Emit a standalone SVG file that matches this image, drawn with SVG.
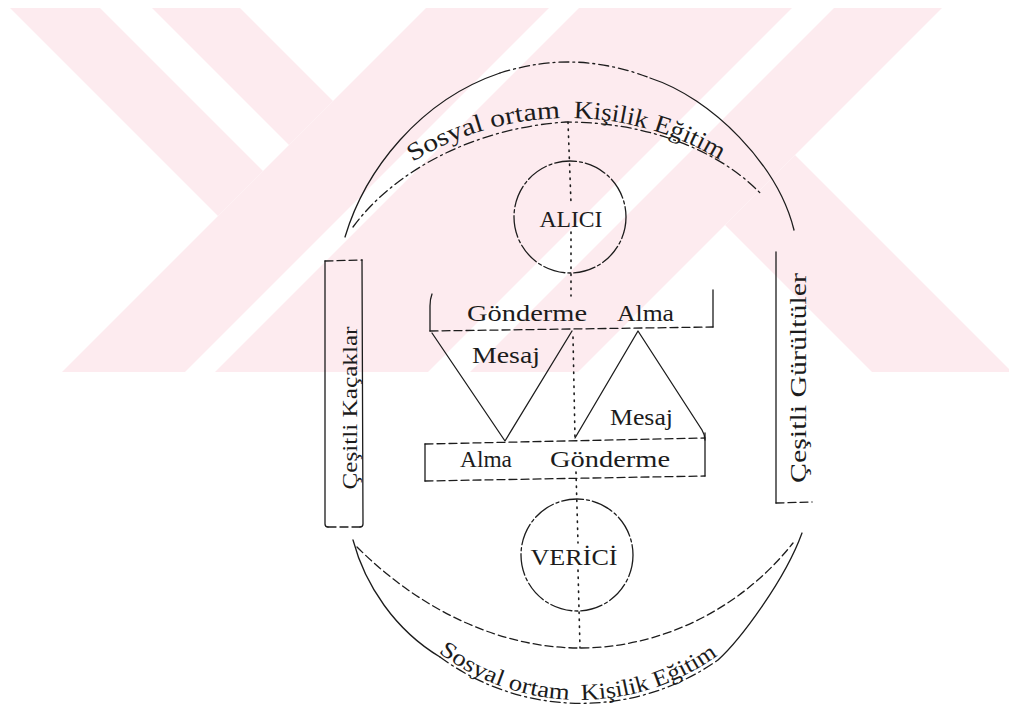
<svg xmlns="http://www.w3.org/2000/svg" width="1009" height="708" viewBox="0 0 1009 708">
<defs>
<style>
.ln{fill:none;stroke:#1c1c1c;stroke-width:1.3;stroke-linejoin:round;stroke-linecap:round}
.dd{stroke-dasharray:10 4 2 4}
.ds{stroke-dasharray:8 4}
.dt{stroke-dasharray:1.5 5.5;stroke-width:1.6}
.cdash{stroke-dasharray:22 3 3 3}
.t{font-family:"Liberation Serif","DejaVu Serif",serif;fill:#1c1c1c}
.wm{fill:#fdebef}
</style>
<clipPath id="wmclip"><rect x="0" y="8" width="1009" height="364"/></clipPath>
<path id="tpTop" d="M377.7,187.3 A296,296 0 0 1 758.3,187.3"/>
<path id="tpBot" d="M400,616 A235,235 0 0 0 760,616"/>
</defs>
<rect width="1009" height="708" fill="#ffffff"/>
<g id="watermark" clip-path="url(#wmclip)">
<polygon class="wm" points="10,8 100,8 263,171 218,216"/>
<polygon class="wm" points="152,8 240,8 333,101 289,145"/>
<polygon class="wm" points="426,8 549,8 185,372 62,372"/>
<polygon class="wm" points="579,8 792,8 428,372 215,372"/>
<polygon class="wm" points="834,8 942,8 578,372 470,372"/>
<polygon class="wm" points="725,225 795,155 1012,372 872,372"/>
</g>
<g id="arc-top">
<path class="ln" d="M345,237 C365,170 420,100 500,73"/>
<path class="ln dd" d="M500,73 C530,64 550,62 569,62 C595,62 625,68 650,78"/>
<path class="ln" d="M650,78 C712,98 778,165 794,230"/>
<path class="ln dd" d="M353,227 C395,170 475,128 566,122 C650,122 722,152 762,195"/>
<text class="t" font-size="25"><textPath href="#tpTop" startOffset="43" textLength="156" lengthAdjust="spacingAndGlyphs">Sosyal ortam</textPath></text>
<text class="t" font-size="25"><textPath href="#tpTop" startOffset="212" textLength="154" lengthAdjust="spacingAndGlyphs">Kişilik Eğitim</textPath></text>
</g>
<g id="arc-bottom">
<path class="ln" d="M353,540 C365,585 395,630 440,657"/>
<path class="ln dd" d="M440,657 A238,238 0 0 0 718,660"/>
<path class="ln" d="M718,660 C740,640 785,580 802,533"/>
<path class="ln ds" d="M357,547 C420,610 500,648 580,648 C660,648 740,610 793,543"/>
<text class="t" font-size="23"><textPath href="#tpBot" startOffset="53" textLength="141" lengthAdjust="spacingAndGlyphs">Sosyal ortam</textPath></text>
<text class="t" font-size="23"><textPath href="#tpBot" startOffset="206" textLength="146" lengthAdjust="spacingAndGlyphs">Kişilik Eğitim</textPath></text>
</g>
<g id="alici">
<circle class="ln cdash" cx="570" cy="217" r="56"/>
<text class="t" x="571" y="227" font-size="23" text-anchor="middle" textLength="63" lengthAdjust="spacingAndGlyphs">ALICI</text>
</g>
<g id="verici">
<circle class="ln cdash" cx="577" cy="555" r="56"/>
<text class="t" x="574" y="565" font-size="23" text-anchor="middle" textLength="87" lengthAdjust="spacingAndGlyphs">VERİCİ</text>
</g>
<g id="box-top">
<path class="ln" d="M432,294 Q430,299 430,306 L430,331"/>
<path class="ln ds" d="M430,331 L713,327"/>
<path class="ln" d="M713,290 L713,327"/>
<text class="t" x="467" y="321" font-size="24" textLength="120" lengthAdjust="spacingAndGlyphs">Gönderme</text>
<text class="t" x="617" y="321" font-size="24" textLength="57" lengthAdjust="spacingAndGlyphs">Alma</text>
</g>
<g id="box-bottom">
<path class="ln ds" d="M425,444 L705,438"/>
<path class="ln" d="M425,444 L425,481"/>
<path class="ln ds" d="M425,481 L705,476"/>
<path class="ln" d="M705,433 L705,476"/>
<text class="t" x="460" y="467" font-size="24" textLength="52" lengthAdjust="spacingAndGlyphs">Alma</text>
<text class="t" x="550" y="467" font-size="24" textLength="120" lengthAdjust="spacingAndGlyphs">Gönderme</text>
</g>
<g id="side-left">
<path class="ln ds" d="M325,261 L362,260"/>
<path class="ln" d="M325,261 L325,524 Q325,527 328,527"/>
<path class="ln" d="M362,260 L363,524 Q363,527 360,527"/>
<path class="ln ds" d="M328,527 L360,527"/>
<text class="t" transform="translate(357,408) rotate(-90)" font-size="22" text-anchor="middle" textLength="163" lengthAdjust="spacingAndGlyphs">Çeşitli Kaçaklar</text>
</g>
<g id="side-right">
<path class="ln" d="M776,252 L776,503"/>
<path class="ln ds" d="M776,503 L812,502"/>
<text class="t" transform="translate(806,378) rotate(-90)" font-size="23" text-anchor="middle" textLength="210" lengthAdjust="spacingAndGlyphs">Çeşitli Gürültüler</text>
</g>
<g id="connectors">
<path class="ln dt" d="M568,122 L571,203"/>
<path class="ln dt" d="M571,232 L571,296"/>
<path class="ln dt" d="M573,337 L575,438"/>
<path class="ln dt" d="M576,472 L578,543"/>
<path class="ln dt" d="M578,570 L580,648"/>
<path class="ln" d="M432,333 L505,441 L572,331"/>
<text class="t" x="472" y="363" font-size="24" textLength="68" lengthAdjust="spacingAndGlyphs">Mesaj</text>
<path class="ln" d="M575,438 L638,331 L702,430 Q705,435 705,440"/>
<text class="t" x="610" y="425" font-size="24" textLength="63" lengthAdjust="spacingAndGlyphs">Mesaj</text>
</g>
</svg>
